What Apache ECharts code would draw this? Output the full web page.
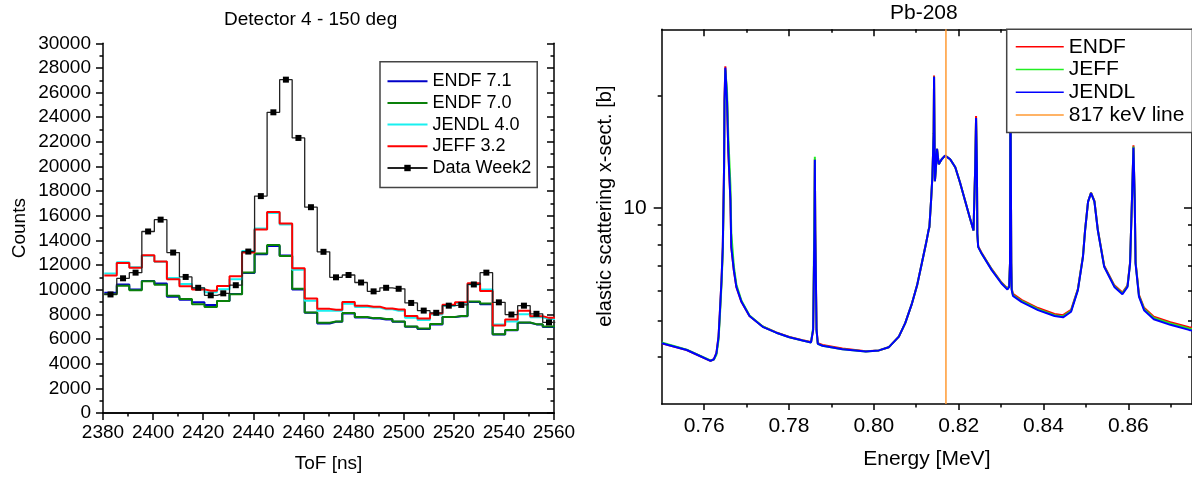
<!DOCTYPE html>
<html><head><meta charset="utf-8">
<script src="https://cdn.jsdelivr.net/npm/echarts@6/dist/echarts.min.js"></script>
<style>html,body{margin:0;padding:0;background:#fff}#c{width:1192px;height:478px}</style>
</head><body><div id="c"></div>
<script>
// ---------- Left chart: Detector 4 - 150 deg ----------
const tofCenters = [2383,2388,2393,2398,2403,2408,2413,2418,2423,2428,2433,2438,2443,2448,2453,2458,2463,2468,
                    2473,2478,2483,2488,2493,2498,2503,2508,2513,2518,2523,2528,2533,2538,2543,2548,2553,2558];
const binWidth = 5;
const endf71 = [9750,10430,10030,10720,10510,9430,9190,8980,8770,9090,9650,11360,12880,13560,12780,10030,8130,7270,
                7400,8070,7750,7670,7590,7400,7000,6820,7190,7780,7860,9010,8820,6360,6710,7320,7190,6980];
const endf70 = [9630,10320,9970,10700,10400,9510,9250,8830,8610,9090,9630,11410,12940,13640,12750,10080,8150,7320,
                7420,8110,7790,7700,7620,7430,7020,6850,7220,7800,7880,9050,8880,6400,6740,7350,7210,7010];
const jendl40 = [11330,12240,11820,12760,12280,10960,10470,10130,9800,10050,10860,13150,14970,16230,15290,11630,9110,8290,
                 8290,8870,8610,8560,8420,8290,7720,7540,7990,8700,8920,10430,10030,7190,7420,8020,7760,7620];
const jeff32 = [11150,12180,11790,12800,12300,10860,10280,10030,9920,10310,11090,13030,14890,16310,15370,11740,9300,8450,
                8370,9010,8700,8630,8480,8390,7880,7670,8070,8790,8980,10530,9890,7110,7590,8290,7860,7720];
const dataWeek2 = [9620,10930,11390,14730,15690,13020,11040,10160,9550,9710,10370,13100,17600,24400,27050,22320,16700,13080,
                   11010,11200,10590,9870,10160,10080,8930,8310,8130,8710,8770,10430,11390,8980,7990,8710,8050,7350];

// ---------- Right chart: Pb-208 ----------
const energy = [0.7500,0.7559,0.7590,0.7615,0.7623,0.7629,0.7634,0.7637,0.7641,0.7644,0.7647,0.7648,0.7650,0.7654,0.7657,
  0.7662,0.7664,0.7670,0.7676,0.7688,0.7707,0.7738,0.7770,0.7801,0.7832,0.7852,0.7857,0.7860,0.7861,0.7862,0.7863,0.7865,
  0.7868,0.7879,0.7926,0.7981,0.8012,0.8035,0.8059,0.8074,0.8090,0.8102,0.8113,0.8123,0.8129,0.8131,0.8135,0.8138,0.8141,
  0.8142,0.8143,0.8144,0.8146,0.8149,0.8153,0.8160,0.8168,0.8180,0.8192,0.8203,0.8215,0.8227,0.8235,0.8238,0.8239,0.8241,
  0.8243,0.8244,0.8246,0.8254,0.8278,0.8301,0.8315,0.8319,0.8321,0.8322,0.8324,0.8325,0.8328,0.8348,0.8387,0.8426,0.8446,
  0.8465,0.8481,0.8493,0.8498,0.8505,0.8512,0.8520,0.8528,0.8543,0.8567,0.8586,0.8598,0.8604,0.8609,0.8612,0.8615,0.8617,
  0.8625,0.8637,0.8660,0.8699,0.8743,0.8750];
const xsJENDL = [4.36,4.18,4.03,3.91,3.95,4.10,4.54,5.24,6.42,7.88,12.85,19.3,23.7,19.3,14.2,
  10.5,7.88,6.83,6.16,5.62,5.15,4.82,4.65,4.52,4.43,4.38,4.73,8.72,13.45,8.72,7.11,4.73,
  4.34,4.29,4.20,4.14,4.17,4.25,4.54,4.93,5.57,6.22,7.11,8.04,8.72,8.90,10.5,12.1,15.8,
  22.4,15.8,11.8,12.6,14.4,13.1,13.5,13.8,13.5,12.85,11.72,10.48,9.37,8.72,8.69,12.85,17.4,
  12.85,8.55,7.88,7.56,6.83,6.29,6.06,6.16,7.11,24.0,7.11,6.04,5.83,5.62,5.34,5.15,5.11,
  5.29,6.04,7.41,8.72,10.4,10.96,10.4,8.72,6.97,6.16,5.89,6.16,7.11,11.0,14.5,10.5,7.11,
  5.80,5.34,5.05,4.88,4.73,4.71];
const xsENDF = [4.36,4.18,4.03,3.91,3.95,4.10,4.54,5.24,6.42,7.88,12.85,19.3,23.9,19.3,14.2,
  10.5,7.88,6.83,6.16,5.62,5.15,4.83,4.66,4.53,4.44,4.39,4.73,8.72,13.5,8.72,7.11,4.74,
  4.36,4.31,4.22,4.15,4.17,4.25,4.54,4.93,5.57,6.22,7.11,8.04,8.72,8.90,10.5,12.1,15.8,
  22.6,15.8,11.8,12.6,14.4,13.1,13.5,13.8,13.5,12.85,11.72,10.48,9.37,8.72,8.69,12.85,17.6,
  12.85,8.55,7.90,7.60,6.87,6.33,6.10,6.20,7.15,24.0,7.15,6.10,5.90,5.69,5.41,5.22,5.18,
  5.35,6.08,7.45,8.75,10.4,11.0,10.45,8.76,7.02,6.22,5.95,6.22,7.15,11.0,14.7,10.5,7.18,
  5.87,5.42,5.13,4.96,4.81,4.79];
const xsJEFF = [4.38,4.19,4.04,3.92,3.94,4.06,4.45,5.10,6.25,7.60,11.9,18.2,23.4,20.5,15.5,
  11.5,8.60,7.00,6.25,5.66,5.17,4.83,4.65,4.52,4.43,4.38,4.80,10.0,13.7,8.50,6.90,4.70,
  4.34,4.29,4.20,4.14,4.17,4.25,4.54,4.93,5.57,6.22,7.11,8.04,8.72,8.90,10.5,12.1,15.8,
  22.4,15.8,11.8,12.6,14.4,13.1,13.5,13.8,13.5,12.85,11.72,10.48,9.37,8.72,8.69,12.85,17.4,
  12.85,8.55,7.88,7.57,6.85,6.31,6.08,6.18,7.13,24.0,7.13,6.07,5.86,5.65,5.37,5.18,5.14,
  5.32,6.06,7.43,8.73,10.4,10.98,10.42,8.74,6.99,6.19,5.92,6.19,7.13,11.0,14.6,10.5,7.14,
  5.83,5.38,5.09,4.92,4.77,4.75];
const line817 = 0.817;
const xsMin = 3, xsMax = 30;
const energyMajorTicks = [0.76,0.78,0.80,0.82,0.84,0.86];
const energyMinorTicks = [0.77,0.79,0.81,0.83,0.85,0.87];
const xsMajorTicks = [10];
const xsMinorTicks = [4,5,6,7,8,9,20];

const FONT = 'Liberation Sans, Arial, Helvetica, sans-serif';
const n = tofCenters.length;
function stepData(vals) {
  const pts = [{value: [tofCenters[0] - binWidth / 2, vals[0]], symbol: 'none'}];
  tofCenters.forEach((c, i) => pts.push({value: [c, vals[i]]}));
  pts.push({value: [tofCenters[n - 1] + binWidth / 2, vals[n - 1]], symbol: 'none'});
  return pts;
}
function xyData(xs) { return energy.map((e, i) => [e, xs[i]]); }

const axisLine = {show: true, lineStyle: {color: '#000', width: 1.5}};
const tickStyle = {color: '#000', width: 1.5};
const noLabel = {show: false};
const noSplit = {show: false};
const plain = v => String(v);

function histSeries(name, vals, color, w) {
  return {name, type: 'line', xAxisIndex: 0, yAxisIndex: 0, step: 'middle', data: stepData(vals),
    symbol: 'none', lineStyle: {color, width: w}, itemStyle: {color}, clip: true};
}
function xsSeries(name, xs, color) {
  return {name, type: 'line', xAxisIndex: 2, yAxisIndex: 2, data: xyData(xs), symbol: 'none', showSymbol: false,
    lineStyle: {color, width: 2}, itemStyle: {color}, clip: true};
}

const option = {
  animation: false,
  backgroundColor: '#fff',
  textStyle: {fontFamily: FONT, color: '#000'},
  title: [
    {text: 'Detector 4 - 150 deg', left: 224, top: 9.8, padding: 0, textStyle: {fontSize: 19, fontWeight: 'normal', color: '#000', fontFamily: FONT}},
    {text: 'Pb-208', left: 890, top: 2.8, padding: 0, textStyle: {fontSize: 21, fontWeight: 'normal', color: '#000', fontFamily: FONT}}
  ],
  legend: [
    {data: ['ENDF 7.1', 'ENDF 7.0', 'JENDL 4.0', 'JEFF 3.2', {name: 'Data Week2', itemStyle: {opacity: 1}}],
     orient: 'vertical', left: 380, top: 61.7,
     padding: [10, 6, 10, 6.5], itemWidth: 40, itemHeight: 8, itemGap: 2.7, backgroundColor: '#fff',
     borderColor: '#444', borderWidth: 1.5, borderRadius: 0, itemStyle: {opacity: 0},
     textStyle: {fontSize: 18, lineHeight: 19, color: '#000', fontFamily: FONT}},
    {data: ['ENDF', 'JEFF', 'JENDL', '817 keV line'], orient: 'vertical', left: 1006.7, top: 29.3,
     padding: [7, 8, 7, 8.3], itemWidth: 48, itemHeight: 8, itemGap: 1.7, backgroundColor: '#fff',
     borderColor: '#444', borderWidth: 1.5, borderRadius: 0, itemStyle: {opacity: 0}, lineStyle: {width: 1.5},
     textStyle: {fontSize: 21, lineHeight: 21, color: '#000', fontFamily: FONT}}
  ],
  grid: [
    {left: 103, top: 43.3, width: 451, height: 374, containLabel: false},
    {left: 661.7, top: 29.3, width: 533.3, height: 374.7, containLabel: false}
  ],
  xAxis: [
    {gridIndex: 0, type: 'value', position: 'bottom', min: 2380, max: 2560, interval: 20, axisLine,
     axisTick: {show: true, inside: false, length: 7, lineStyle: tickStyle},
     minorTick: {show: true, splitNumber: 2, length: 3.5, lineStyle: tickStyle},
     axisLabel: {fontSize: 19, color: '#000', margin: 10, fontFamily: FONT, formatter: plain}, splitLine: noSplit,
     name: 'ToF [ns]', nameLocation: 'middle', nameGap: 41, nameTextStyle: {fontSize: 19, color: '#000', fontFamily: FONT}},
    {gridIndex: 0, type: 'value', position: 'top', min: 2380, max: 2560, interval: 20, axisLine,
     axisTick: {show: true, inside: true, length: 7, lineStyle: tickStyle},
     minorTick: {show: true, splitNumber: 2, length: 3.5, lineStyle: tickStyle},
     axisLabel: noLabel, splitLine: noSplit},
    {gridIndex: 1, type: 'value', position: 'bottom', min: 0.75, max: 0.875, axisLine,
     axisTick: {show: true, inside: false, length: 6, lineStyle: tickStyle, customValues: energyMajorTicks},
     axisLabel: {fontSize: 21, color: '#000', margin: 12, fontFamily: FONT, customValues: energyMajorTicks,
                 formatter: v => Number(v).toFixed(2)},
     splitLine: noSplit,
     name: 'Energy [MeV]', nameLocation: 'middle', nameGap: 45, nameTextStyle: {fontSize: 21, color: '#000', fontFamily: FONT}},
    {gridIndex: 1, type: 'value', position: 'bottom', min: 0.75, max: 0.875, axisLine: {show: false},
     axisTick: {show: true, inside: false, length: 3.5, lineStyle: tickStyle, customValues: energyMinorTicks},
     axisLabel: noLabel, splitLine: noSplit},
    {gridIndex: 1, type: 'value', position: 'top', min: 0.75, max: 0.875, axisLine,
     axisTick: {show: true, inside: true, length: 7, lineStyle: tickStyle, customValues: energyMajorTicks},
     axisLabel: noLabel, splitLine: noSplit},
    {gridIndex: 1, type: 'value', position: 'top', min: 0.75, max: 0.875, axisLine: {show: false},
     axisTick: {show: true, inside: true, length: 3.5, lineStyle: tickStyle, customValues: energyMinorTicks},
     axisLabel: noLabel, splitLine: noSplit}
  ],
  yAxis: [
    {gridIndex: 0, type: 'value', position: 'left', min: 0, max: 30000, interval: 2000, axisLine,
     axisTick: {show: true, inside: false, length: 7, lineStyle: tickStyle},
     minorTick: {show: true, splitNumber: 2, length: 3.5, lineStyle: tickStyle},
     axisLabel: {fontSize: 19, color: '#000', margin: 12, fontFamily: FONT, formatter: plain}, splitLine: noSplit,
     name: 'Counts', nameLocation: 'middle', nameGap: 74, nameRotate: 90,
     nameTextStyle: {fontSize: 19, color: '#000', fontFamily: FONT}},
    {gridIndex: 0, type: 'value', position: 'right', min: 0, max: 30000, interval: 2000, axisLine,
     axisTick: {show: true, inside: true, length: 7, lineStyle: tickStyle},
     minorTick: {show: true, splitNumber: 2, length: 3.5, lineStyle: tickStyle},
     axisLabel: noLabel, splitLine: noSplit},
    {gridIndex: 1, type: 'log', logBase: 10, position: 'left', min: xsMin, max: xsMax, axisLine,
     axisTick: {show: true, inside: false, length: 8, lineStyle: tickStyle, customValues: xsMajorTicks},
     axisLabel: {fontSize: 21, color: '#000', margin: 15, fontFamily: FONT, customValues: xsMajorTicks, formatter: v => String(Math.round(v))},
     splitLine: noSplit, minorTick: {show: false},
     name: 'elastic scattering x-sect. [b]', nameLocation: 'middle', nameGap: 46, nameRotate: 90,
     nameTextStyle: {fontSize: 20, color: '#000', fontFamily: FONT, padding: [0, 0, 0, 21]}},
    {gridIndex: 1, type: 'log', logBase: 10, position: 'left', min: xsMin, max: xsMax, axisLine: {show: false},
     axisTick: {show: true, inside: false, length: 4, lineStyle: tickStyle, customValues: xsMinorTicks},
     axisLabel: noLabel, splitLine: noSplit},
    {gridIndex: 1, type: 'log', logBase: 10, position: 'right', min: xsMin, max: xsMax, axisLine,
     axisTick: {show: true, inside: true, length: 8, lineStyle: tickStyle, customValues: xsMajorTicks},
     axisLabel: noLabel, splitLine: noSplit},
    {gridIndex: 1, type: 'log', logBase: 10, position: 'right', min: xsMin, max: xsMax, axisLine: {show: false},
     axisTick: {show: true, inside: true, length: 4, lineStyle: tickStyle, customValues: xsMinorTicks},
     axisLabel: noLabel, splitLine: noSplit}
  ],
  series: [
    histSeries('ENDF 7.1', endf71, '#0000c8', 2),
    histSeries('ENDF 7.0', endf70, '#0a800a', 2),
    histSeries('JENDL 4.0', jendl40, '#19f0f0', 2),
    histSeries('JEFF 3.2', jeff32, '#ff0000', 2),
    {name: 'Data Week2', type: 'line', xAxisIndex: 0, yAxisIndex: 0, step: 'middle', data: stepData(dataWeek2),
     symbol: 'rect', symbolSize: 6, showAllSymbol: true, lineStyle: {color: '#222', width: 1.3},
     itemStyle: {color: '#000'}, clip: true, z: 5},
    xsSeries('ENDF', xsENDF, '#ff0000'),
    xsSeries('JEFF', xsJEFF, '#22ee22'),
    xsSeries('JENDL', xsJENDL, '#0000ff'),
    {name: '817 keV line', type: 'line', xAxisIndex: 2, yAxisIndex: 2, data: [[line817, xsMin], [line817, xsMax]],
     symbol: 'none', lineStyle: {color: '#ff9a33', width: 1.5}, itemStyle: {color: '#ff9a33'}, z: 4}
  ]
};
const chart = echarts.init(document.getElementById('c'), null, {renderer: 'canvas'});
chart.setOption(option);
</script></body></html>
